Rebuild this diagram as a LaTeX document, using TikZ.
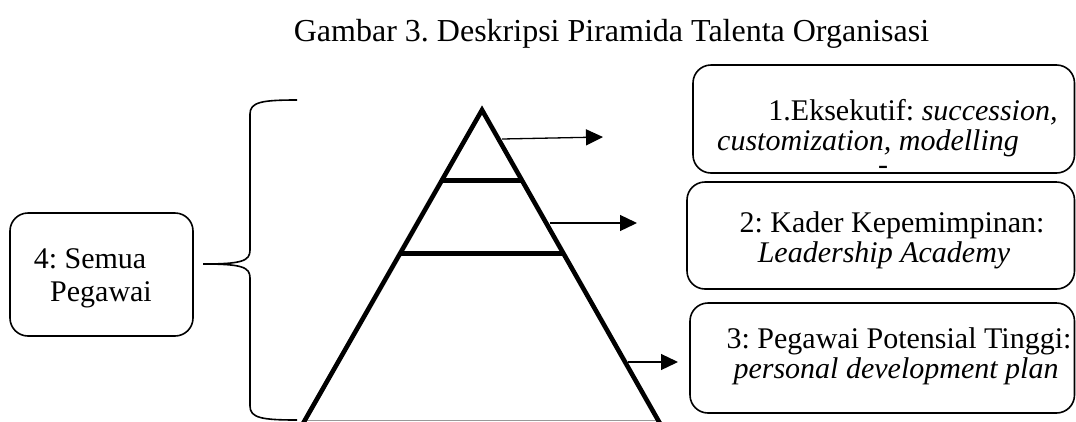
\documentclass[tikz,border=0pt]{standalone}
\usepackage{fontspec}
\setmainfont{Liberation Serif}
\usetikzlibrary{arrows.meta,calc}
\frenchspacing
\begin{document}
\begin{tikzpicture}[x=1pt,y=-1pt,
  box/.style={draw,rounded corners=18pt,line width=1.6pt,inner sep=0pt},
  txt/.style={anchor=base,inner sep=0pt,font=\fontsize{30}{34}\selectfont},
  pyr/.style={line width=4.6pt,line join=miter},
  tier/.style={line width=5pt},
  arr/.style={-{Triangle[length=17pt,width=16pt]},line width=1.3pt},
  brace/.style={line width=1.6pt}]
\useasboundingbox (0,0) rectangle (1076,421);
% title
\node[txt,font=\fontsize{32}{36}\selectfont] (title) at (611.5,41) {Gambar 3. Deskripsi Piramida Talenta Organisasi};
% pyramid
\coordinate (apex) at (482,110);
\coordinate (bl) at (305,420);
\coordinate (br) at (658,420);
\coordinate (blx) at ($(apex)!1.01!(bl)$);
\coordinate (brx) at ($(apex)!1.01!(br)$);
\draw[line width=1pt,black!40] (bl) -- (br);
\draw[pyr] (blx) -- (apex) -- (brx);
\draw[tier] ($(apex)!0.2258!(bl)$) -- ($(apex)!0.2258!(br)$);
\draw[tier] ($(apex)!0.4645!(bl)$) -- ($(apex)!0.4645!(br)$);
% boxes
\node[box,minimum width=381.5pt,minimum height=108pt] (b1) at (883.75,119) {};
\node[box,minimum width=387.5pt,minimum height=107pt] (b2) at (880.75,235.5) {};
\node[box,minimum width=384.5pt,minimum height=110pt] (b3) at (882.25,358) {};
\node[box,minimum width=183pt,minimum height=123pt] (b4) at (101.5,274.5) {};
% texts
\node[txt] (t1a) at (913,120) {1.Eksekutif: \textit{succession,}};
\node[txt] (t1b) at (868,150) {\textit{customization, modelling}};
\node[txt,text height=7pt,text depth=0pt] (t1c) at (883,174) {-};
\node[txt] (t2a) at (892,232) {2: Kader Kepemimpinan:};
\node[txt] (t2b) at (884,262) {\textit{Leadership Academy}};
\node[txt] (t3a) at (899,348) {3: Pegawai Potensial Tinggi:};
\node[txt] (t3b) at (896,378) {\textit{personal development plan}};
\node[txt] (t4a) at (90,268) {4: Semua};
\node[txt] (t4b) at (101,301) {Pegawai};
% arrows
\coordinate (s1) at (502,139);
\coordinate (e1) at (603,137);
\coordinate (s2) at (550,223);
\coordinate (e2) at (637,223);
\coordinate (s3) at (628,362);
\coordinate (e3) at (678,362);
\draw[arr] (s1) -- (e1);
\draw[arr] (s2) -- (e2);
\draw[arr] (s3) -- (e3);
% brace
\coordinate (btop) at (297,100);
\coordinate (btip) at (203,264);
\coordinate (bbot) at (297,420);
\draw[brace] (btop) .. controls (262,100) and (250,102) .. (250,114)
  -- (250,250) .. controls (250,261) and (242,264) .. (btip)
  .. controls (242,264) and (250,267) .. (250,278)
  -- (250,406) .. controls (250,418) and (262,420) .. (bbot);
\end{tikzpicture}
\end{document}
